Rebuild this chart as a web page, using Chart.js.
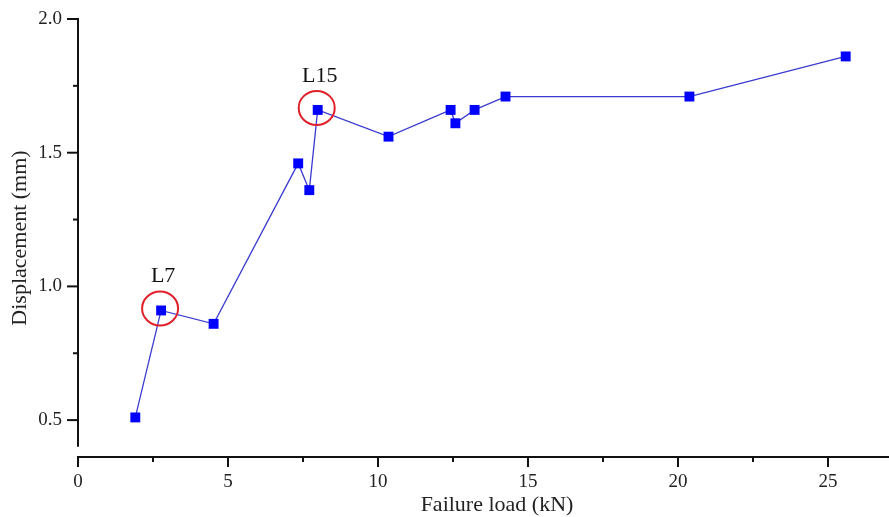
<!DOCTYPE html>
<html>
<head>
<meta charset="utf-8">
<script src="https://cdn.jsdelivr.net/npm/chart.js@4.4.1/dist/chart.umd.min.js"></script>
<style>
  html, body { margin: 0; padding: 0; background: #fff; }
  #wrap { width: 889px; height: 517px; position: relative; }
</style>
</head>
<body>
<div id="wrap"><canvas id="chart"></canvas></div>
<script>
// Failure load vs displacement
const failureLoad = [1.91, 2.77, 4.52, 7.34, 7.71, 7.99, 10.35, 12.42, 12.58, 13.22, 14.25, 20.38, 25.59];
const displacement = [0.51, 0.91, 0.86, 1.46, 1.36, 1.66, 1.56, 1.66, 1.61, 1.66, 1.71, 1.71, 1.86];

// highlighted specimens (index into the arrays above)
const markLabels = ['L7', 'L15'];
const markIndex = [1, 5];

const xMajor = [0, 5, 10, 15, 20, 25];
const xMinor = [2.5, 7.5, 12.5, 17.5, 22.5];
const yMajor = [0.5, 1.0, 1.5, 2.0];
const yMinor = [0.75, 1.25, 1.75];

const serif = "'Liberation Serif', 'Times New Roman', serif";

const axesPlugin = {
  id: 'originAxes',
  afterDraw(chart) {
    const ctx = chart.ctx;
    const xs = chart.scales.x, ys = chart.scales.y;
    const area = chart.chartArea;
    ctx.save();
    ctx.strokeStyle = '#111';
    ctx.lineWidth = 2;

    // y axis, stops short of the x axis
    ctx.beginPath();
    ctx.moveTo(area.left, ys.getPixelForValue(2.0) - 1);
    ctx.lineTo(area.left, ys.getPixelForValue(0.4));
    ctx.stroke();
    yMajor.forEach(v => {
      const y = ys.getPixelForValue(v);
      ctx.beginPath(); ctx.moveTo(area.left, y); ctx.lineTo(area.left - 11, y); ctx.stroke();
    });
    yMinor.forEach(v => {
      const y = ys.getPixelForValue(v);
      ctx.beginPath(); ctx.moveTo(area.left, y); ctx.lineTo(area.left - 5, y); ctx.stroke();
    });

    // x axis
    ctx.beginPath();
    ctx.moveTo(area.left - 1, area.bottom);
    ctx.lineTo(chart.width, area.bottom);
    ctx.stroke();
    xMajor.forEach(v => {
      const x = xs.getPixelForValue(v);
      ctx.beginPath(); ctx.moveTo(x, area.bottom); ctx.lineTo(x, area.bottom + 10); ctx.stroke();
    });
    xMinor.forEach(v => {
      const x = xs.getPixelForValue(v);
      ctx.beginPath(); ctx.moveTo(x, area.bottom); ctx.lineTo(x, area.bottom + 5); ctx.stroke();
    });

    // x title (sits right of centre in the original)
    ctx.fillStyle = '#222';
    ctx.font = '22px ' + serif;
    ctx.textAlign = 'center';
    ctx.textBaseline = 'middle';
    ctx.fillText('Failure load (kN)', 497, 505);

    // red circles + labels
    markIndex.forEach((idx, i) => {
      const px = xs.getPixelForValue(failureLoad[idx]);
      const py = ys.getPixelForValue(displacement[idx]);
      ctx.strokeStyle = '#e0202a';
      ctx.lineWidth = 2;
      ctx.beginPath();
      ctx.ellipse(px - 1, py - 2, 18, 17, 0, 0, Math.PI * 2);
      ctx.stroke();
      ctx.fillStyle = '#111';
      ctx.font = '22px ' + serif;
      ctx.fillText(markLabels[i], px + 2, py - 34);
    });
    ctx.restore();
  }
};

new Chart(document.getElementById('chart'), {
  type: 'scatter',
  data: {
    datasets: [{
      label: 'Displacement',
      data: failureLoad.map((x, i) => ({ x: x, y: displacement[i] })),
      showLine: true,
      borderColor: '#3a3ad0',
      borderWidth: 1.3,
      pointStyle: 'rect',
      pointRadius: 7,
      pointBackgroundColor: '#0000ff',
      pointBorderColor: '#0000ff',
      pointBorderWidth: 0
    }]
  },
  options: {
    responsive: true,
    maintainAspectRatio: false,
    animation: false,
    layout: { autoPadding: false, padding: { top: 19, right: 1, left: 0, bottom: 0 } },
    plugins: { legend: { display: false }, tooltip: { enabled: false } },
    scales: {
      x: {
        type: 'linear',
        min: 0,
        max: 27,
        grid: { display: false, drawTicks: false },
        border: { display: false },
        ticks: {
          stepSize: 5,
          includeBounds: false,
          padding: 14,
          color: '#222',
          font: { family: serif, size: 19 }
        },
        afterFit(scale) { scale.height = 60; scale.paddingLeft = 0; scale.paddingRight = 0; }
      },
      y: {
        type: 'linear',
        min: 0.362,
        max: 2.0,
        grid: { display: false, drawTicks: false },
        border: { display: false },
        title: {
          display: true,
          text: 'Displacement (mm)',
          color: '#222',
          font: { family: serif, size: 22 },
          padding: { top: 7, bottom: 0 }
        },
        ticks: {
          stepSize: 0.5,
          includeBounds: false,
          padding: 16,
          color: '#222',
          font: { family: serif, size: 19 },
          callback: v => v.toFixed(1)
        },
        afterFit(scale) { scale.width = 78; scale.paddingTop = 0; scale.paddingBottom = 0; }
      }
    }
  },
  plugins: [axesPlugin]
});
</script>
</body>
</html>
